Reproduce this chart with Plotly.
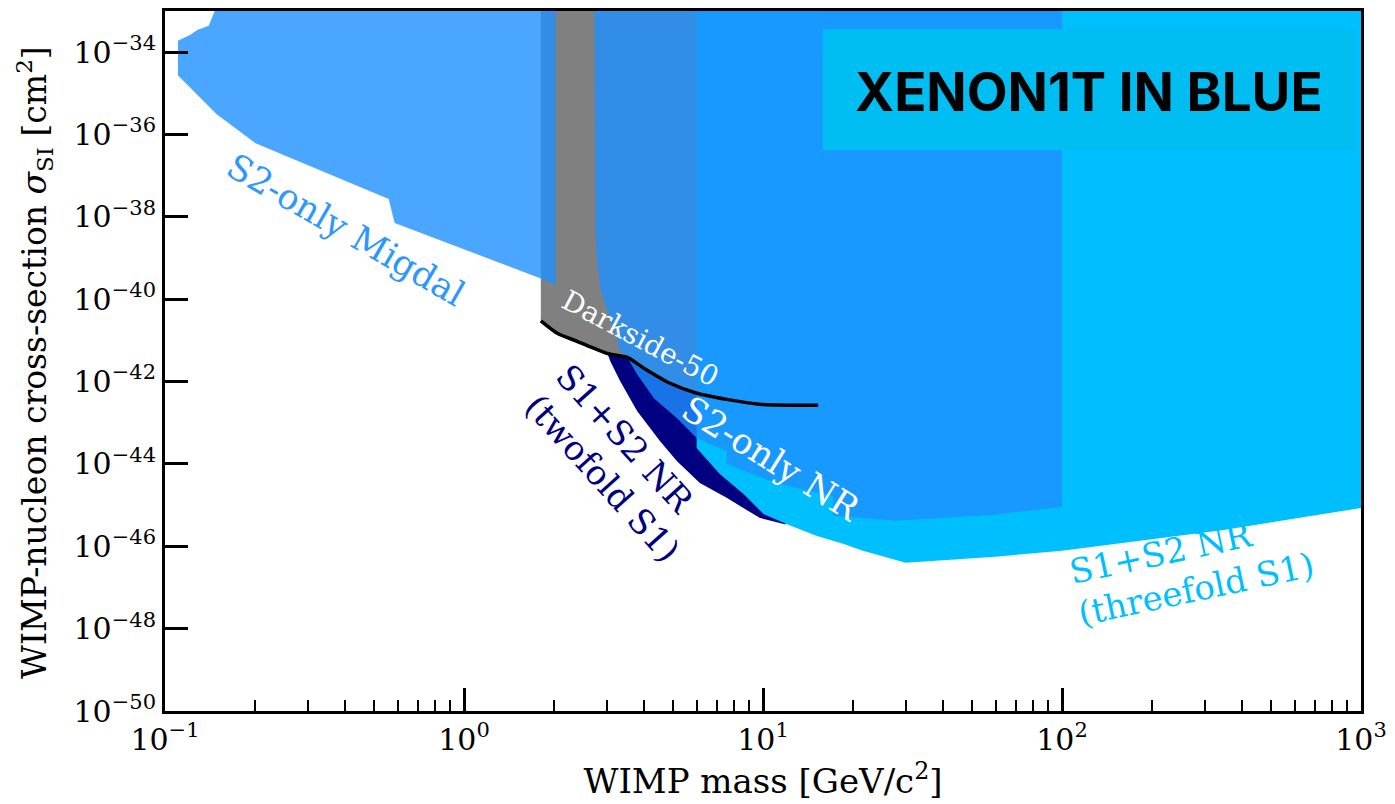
import numpy as np
import plotly.graph_objects as go

# ---------------- data (mass in GeV/c^2, cross-section in cm^2) ----------------
migdal_mass = [0.1466, 0.1401, 0.1287, 0.1211, 0.1105, 0.1105, 0.1211, 0.1489, 0.2008,
               0.560, 0.586, 1.807, 2.026, 2.026]
migdal_xs = [1e-33, 4.4e-34, 3.5e-34, 2.6e-34, 1.9e-34, 2.7e-35, 1.4e-35, 3.1e-36, 6.1e-37,
             2.7e-38, 7.1e-39, 3.2e-40, 2.2e-40, 1e-33]

ds50_mass = [1.807, 2.058, 2.399, 3.018, 3.517, 4.007, 4.889, 6.010, 7.56, 9.74, 12.93, 15.3]
ds50_xs = [3.0e-41, 1.47e-41, 9.4e-42, 4.8e-42, 3.85e-42, 2.09e-42, 9.1e-43, 5.2e-43,
           3.7e-43, 2.8e-43, 2.66e-43, 2.66e-43]

twofold_mass = [3.018, 3.088, 3.334, 3.797, 4.528, 5.159, 6.15, 7.56, 9.74, 11.9]
twofold_xs = [4.8e-42, 3.08e-42, 1.01e-42, 1.9e-43, 3.58e-44, 1.17e-44, 3.45e-45, 1.5e-45,
              4.9e-46, 3.4e-46]

threefold_mass = [6.0, 6.0, 7.17, 8.61, 10.04, 11.97, 15.07, 18.52, 21.59, 30.0, 59.8,
                  100.0, 347.0, 1000.0, 1000.0]
threefold_xs = [1e-33, 2.43e-44, 5.7e-45, 1.87e-45, 6.1e-46, 3.5e-46, 1.8e-46, 1.16e-46,
                7.8e-47, 4.0e-47, 5.6e-47, 7.8e-47, 2.5e-46, 8.5e-46, 1e-33]

s2nr_mass = [2.732, 2.753, 2.795, 2.860, 3.018, 3.184, 3.334, 3.517, 3.797, 4.324, 5.159,
             6.01, 7.56, 7.56, 8.61, 11.09, 14.28, 17.16, 17.16, 27.8, 59.8, 100.0, 100.0]
s2nr_xs = [1e-33, 4.3e-39, 6.8e-40, 1.8e-40, 5.0e-41, 1.64e-41, 5.4e-42, 3.85e-42, 1.49e-42,
           3.9e-43, 1.29e-43, 4.2e-44, 2.05e-44, 1.0e-44, 6.8e-45, 3.45e-45, 2.2e-45,
           1.68e-45, 5.5e-46, 4.2e-46, 5.8e-46, 9.1e-46, 1e-33]

x_tick_vals = [0.1, 1, 10, 100, 1000]
x_tick_text = ["10<sup>\u22121</sup>", "10<sup>0</sup>", "10<sup>1</sup>", "10<sup>2</sup>", "10<sup>3</sup>"]
y_tick_exps = [-50, -48, -46, -44, -42, -40, -38, -36, -34]

# ---------------- colours ----------------
DODGER_A = "rgba(30,144,255,0.8)"
DEEPSKY = "rgb(0,191,255)"
NAVY = "rgb(0,0,128)"
GRAY = "rgb(128,128,128)"
SERIF = "DejaVu Serif"

fig = go.Figure()

# twofold S1 (navy) - lowest
fig.add_trace(go.Scatter(
    x=twofold_mass + [twofold_mass[-1], twofold_mass[0]],
    y=twofold_xs + [1e-33, 1e-33],
    fill="toself", fillcolor=NAVY, mode="lines", line=dict(width=0),
    hoverinfo="skip", showlegend=False))

# Darkside-50 (gray) above line
fig.add_trace(go.Scatter(
    x=ds50_mass[:9] + [ds50_mass[8], ds50_mass[0]],
    y=ds50_xs[:9] + [1e-33, 1e-33],
    fill="toself", fillcolor=GRAY, mode="lines", line=dict(width=0),
    hoverinfo="skip", showlegend=False))

# threefold S1 (deepskyblue)
fig.add_trace(go.Scatter(
    x=threefold_mass, y=threefold_xs,
    fill="toself", fillcolor=DEEPSKY, mode="lines", line=dict(width=0),
    hoverinfo="skip", showlegend=False))

# S2-only NR (dodgerblue, alpha)
fig.add_trace(go.Scatter(
    x=s2nr_mass, y=s2nr_xs,
    fill="toself", fillcolor=DODGER_A, mode="lines", line=dict(width=0),
    hoverinfo="skip", showlegend=False))

# S2-only Migdal (dodgerblue, alpha)
fig.add_trace(go.Scatter(
    x=migdal_mass, y=migdal_xs,
    fill="toself", fillcolor=DODGER_A, mode="lines", line=dict(width=0),
    hoverinfo="skip", showlegend=False))

# Darkside-50 limit line
fig.add_trace(go.Scatter(
    x=ds50_mass, y=ds50_xs, mode="lines",
    line=dict(color="black", width=3.5, shape="spline", smoothing=0.6),
    hoverinfo="skip", showlegend=False))

# ---------------- labels ----------------
def lab(text, m, xs, color, size, angle):
    fig.add_annotation(x=np.log10(m), y=np.log10(xs), xref="x", yref="y", text=text,
                       showarrow=False, textangle=angle, xanchor="center", yanchor="middle",
                       font=dict(family=SERIF, size=size, color=color))

lab("S2-only Migdal", 0.403, 4.8e-39, "rgb(45,150,255)", 35, 30)
lab("Darkside-50", 3.885, 1.11e-41, "white", 28, 28)
lab("S2-only NR", 10.66, 1.32e-44, "white", 35, 32)
lab("S1+S2 NR", 3.463, 4.0e-44, NAVY, 34, 48)
lab("(twofold S1)", 2.904, 4.56e-45, NAVY, 34, 48)
lab("S1+S2 NR", 214.7, 7.0e-47, DEEPSKY, 34, -12)
lab("(threefold S1)", 280.5, 9.4e-48, DEEPSKY, 34, -12)

# title box
fig.add_shape(type="rect", xref="paper", yref="paper", x0=0.550, x1=0.995, y0=0.801, y1=0.974,
              fillcolor="rgb(0,190,242)", line=dict(width=0), layer="above")
fig.add_annotation(x=0.7722, y=0.885, xref="paper", yref="paper", text="<b>XENON1T IN BLUE</b>",
                   showarrow=False, xanchor="center", yanchor="middle",
                   font=dict(family="Inter", size=53, color="black", weight=900))

# y-axis title (as rotated annotation for precise placement)
fig.add_annotation(x=-0.1085, y=0.4975, xref="paper", yref="paper",
                   text="WIMP-nucleon cross-section <i>\u03c3</i><sub>SI</sub> [cm<sup>2</sup>]",
                   showarrow=False, textangle=-90, xanchor="center", yanchor="middle",
                   font=dict(family=SERIF, size=33, color="black"))

minor_x = [k * 10.0 ** d for d in range(-1, 3) for k in range(2, 10)]

fig.update_xaxes(
    type="log", range=[-1, 3], showline=True, linewidth=3, linecolor="black", mirror=True,
    ticks="inside", ticklen=23, tickwidth=3, tickcolor="black",
    tickvals=x_tick_vals, ticktext=x_tick_text, showgrid=False, zeroline=False,
    tickfont=dict(family=SERIF, size=30, color="black"),
    minor=dict(tickvals=minor_x, ticks="inside", ticklen=11, tickwidth=2, tickcolor="black", showgrid=False),
    title=dict(text="WIMP mass [GeV/c<sup>2</sup>]", font=dict(family=SERIF, size=34, color="black"), standoff=14),
)
fig.update_yaxes(
    type="log", range=[-50, -33], showline=True, linewidth=3, linecolor="black", mirror=True,
    ticks="inside", ticklen=23, tickwidth=3, tickcolor="black",
    tickvals=[10.0 ** e for e in y_tick_exps],
    ticktext=["10<sup>\u2212%d</sup>" % (-e) for e in y_tick_exps],
    showgrid=False, zeroline=False,
    tickfont=dict(family=SERIF, size=30, color="black"),
)

fig.update_layout(
    width=1395, height=804, margin=dict(l=165, r=27, t=8, b=93),
    plot_bgcolor="white", paper_bgcolor="white", showlegend=False,
)

fig.write_html("out.html")
